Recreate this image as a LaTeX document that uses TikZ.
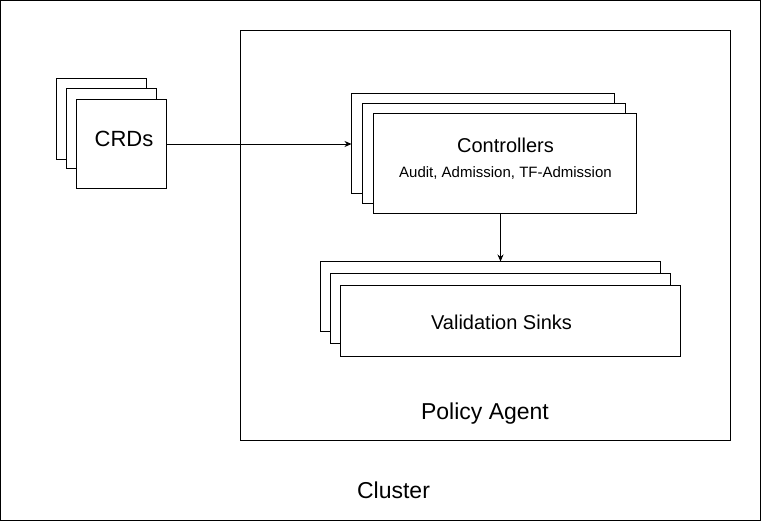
\documentclass[tikz,border=0pt]{standalone}
\usepackage{fontspec}
\setmainfont{Liberation Sans}
\usetikzlibrary{arrows.meta,calc}
\begin{document}
\begin{tikzpicture}[x=1pt,y=-1pt,
  box/.style={draw=black,fill=white,line width=1pt,anchor=north west,inner sep=0pt,outer sep=0pt},
  txt/.style={anchor=base,inner sep=0pt},
  conn/.style={line width=0.8pt,-{Stealth[length=7pt,width=6pt]}}]
\useasboundingbox (0,0) rectangle (761,521);
% cluster
\node[box,minimum width=760pt,minimum height=520pt] (cluster) at (0.5,0.5) {};
\node[txt,font=\fontsize{23}{27}\selectfont] (clustertxt) at (393.5,498) {Cluster};
% policy agent
\node[box,minimum width=490pt,minimum height=410pt] (agent) at (240.5,30.5) {};
\node[txt,font=\fontsize{23}{27}\selectfont] (agenttxt) at (485,420) {Policy Agent};
% CRDs
\node[box,minimum width=90pt,minimum height=81pt] (crd1) at (56.5,78.5) {};
\node[box,minimum width=90pt,minimum height=80pt] (crd2) at (66.5,89) {};
\node[box,minimum width=90pt,minimum height=89pt] (crd3) at (76.5,99.5) {};
\node[txt,font=\fontsize{22}{26}\selectfont] (crdtxt) at (124,147) {CRDs};
% Controllers
\node[box,minimum width=263pt,minimum height=100pt] (c1) at (351.5,93.5) {};
\node[box,minimum width=263pt,minimum height=100pt] (c2) at (362.5,104) {};
\node[box,minimum width=263pt,minimum height=100pt] (c3) at (373.5,114) {};
\node[txt,font=\fontsize{20}{24}\selectfont] (ctrltxt) at (505.5,153) {Controllers};
\node[txt,font=\fontsize{15}{18}\selectfont] (ctrlsub) at (505.5,177.5) {Audit, Admission, TF-Admission};
% Validation sinks
\node[box,minimum width=340pt,minimum height=70pt] (s1) at (320.5,261.5) {};
\node[box,minimum width=340pt,minimum height=70pt] (s2) at (330.5,273.5) {};
\node[box,minimum width=340pt,minimum height=71pt] (s3) at (340.5,285.5) {};
\node[txt,font=\fontsize{20}{24}\selectfont] (sinktxt) at (501.5,330) {Validation Sinks};
% connectors
\draw[conn] (crd3.east) -- (crd3.east -| c1.west);
\draw[conn] ($(c3.south)+(-4.5,0)$) -- ($(s1.north)+(10,0)$);
\end{tikzpicture}
\end{document}
